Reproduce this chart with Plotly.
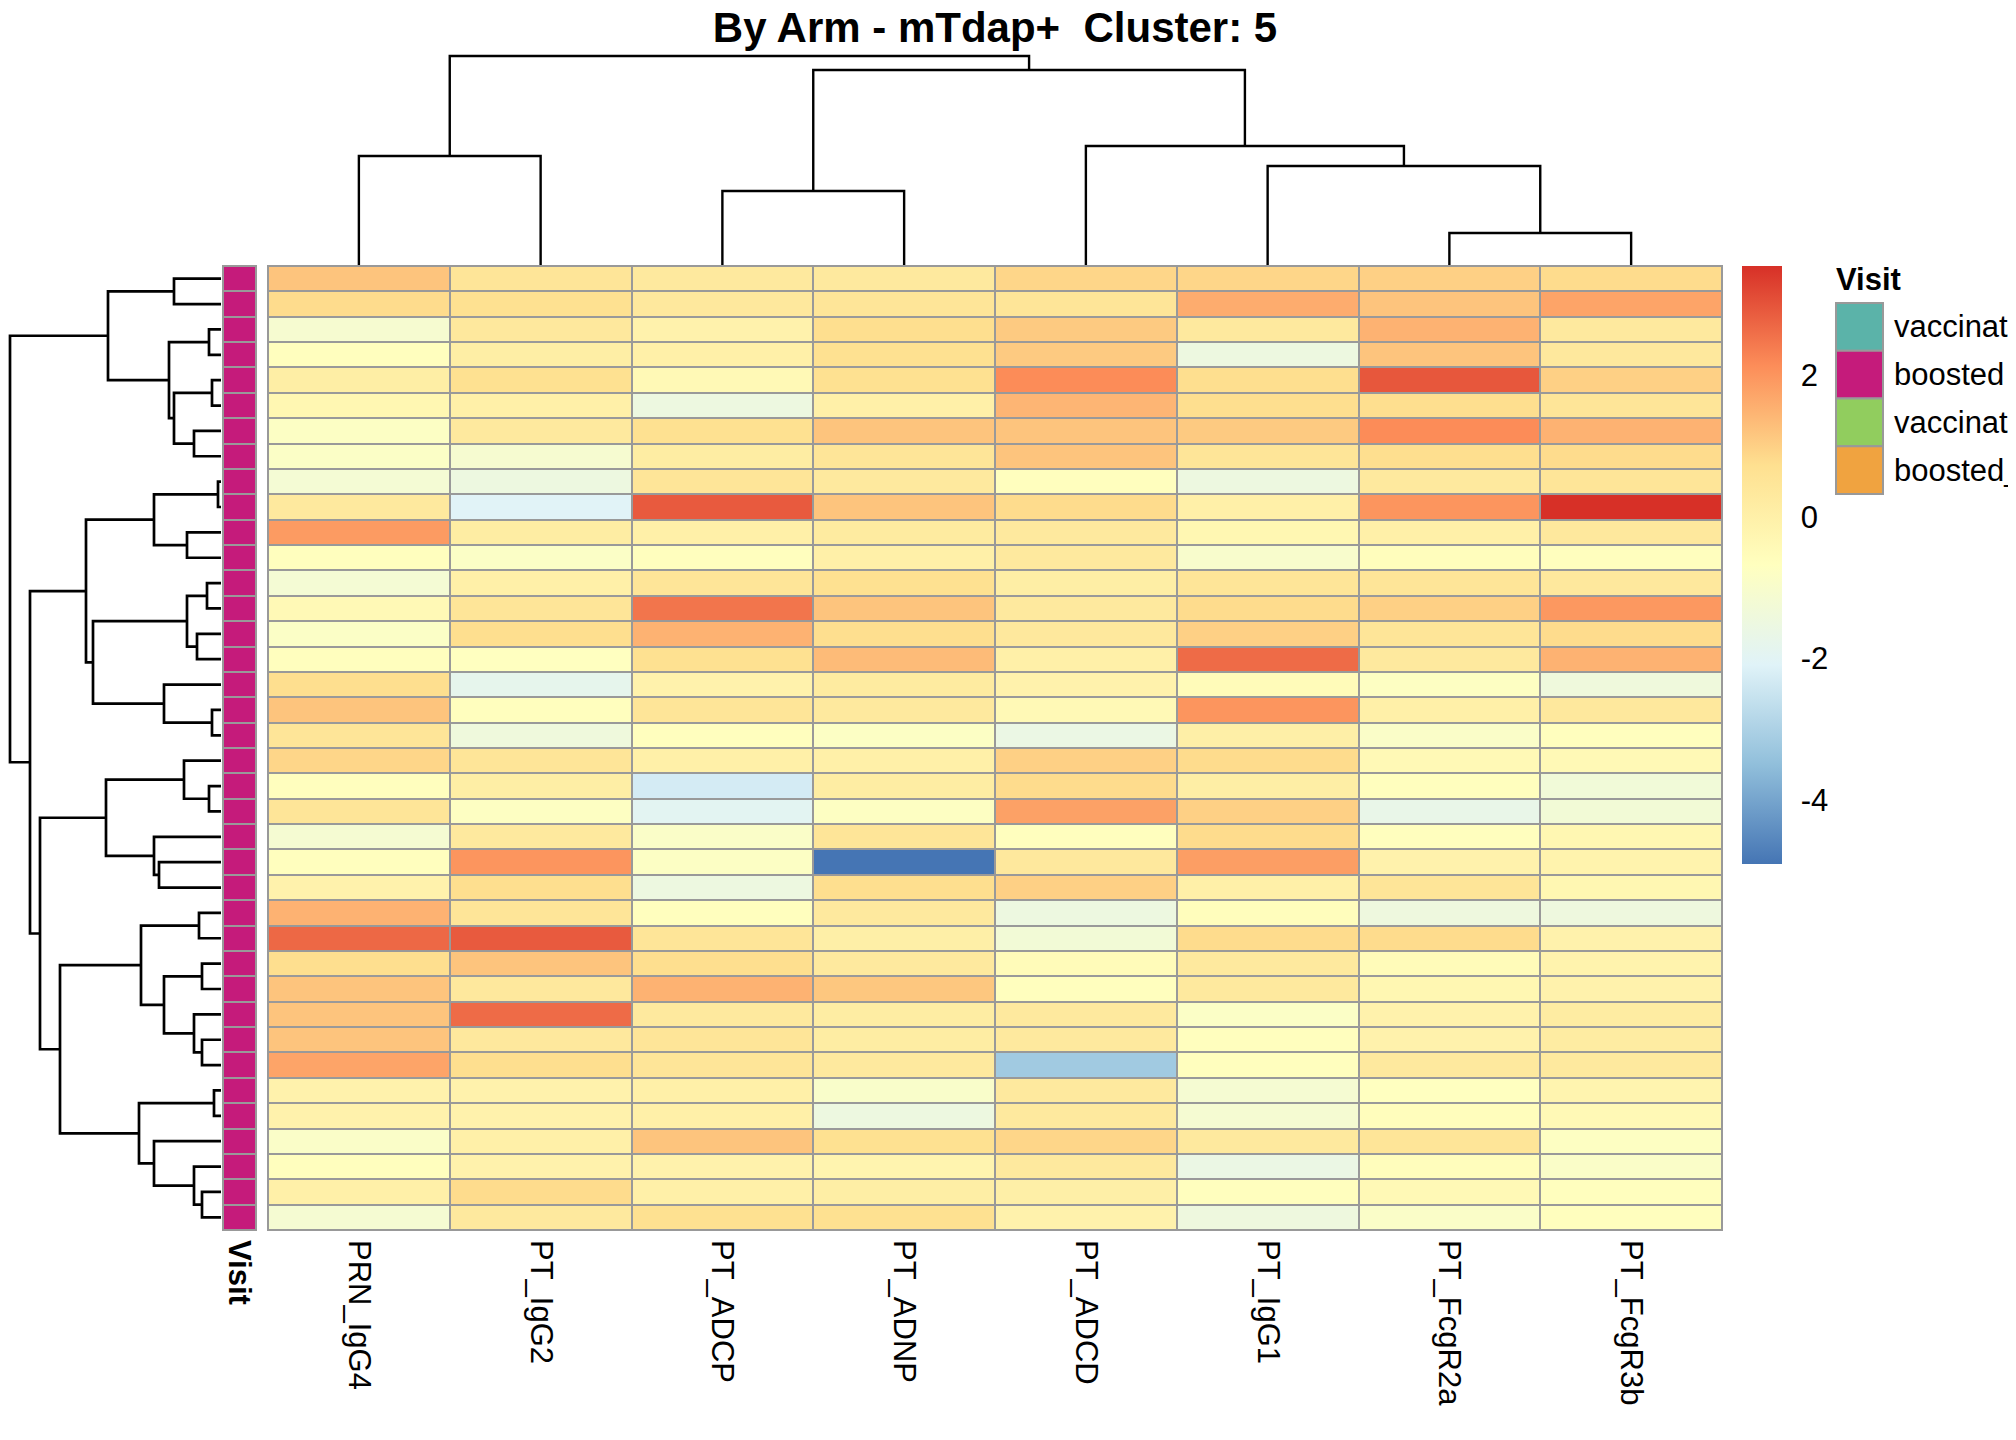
import numpy as np
import plotly.graph_objects as go

# column order as drawn (after clustering)
features = ["PRN_IgG4", "PT_IgG2", "PT_ADCP", "PT_ADNP", "PT_ADCD", "PT_IgG1", "PT_FcgR2a", "PT_FcgR3b"]

# scaled values, one list per feature, rows top -> bottom
PRN_IgG4 = [1.2, 0.8, -1.1, -0.65, 0.1, -0.3, -0.8, -0.85, -1.2, 0.3, 1.9, -0.65, -1.2, -0.4, -0.85, -0.65, 0.75, 1.2, 0.5,
            0.9, -0.65, 0.5, -1.15, -0.65, -0.1, 1.5, 2.7, 0.75, 1.2, 1.2, 1.2, 1.75, -0.1, -0.1, -0.9, -0.65, 0.0, -1.15]
PT_IgG2 = [0.5, 0.7, 0.35, 0.1, 0.7, 0.0, 0.3, -1.1, -1.5, -2.05, 0.15, -0.85, 0.0, 0.5, 0.75, -0.7, -1.8, -0.65, -1.4,
           0.5, 0.1, -0.75, 0.3, 2.0, 0.75, 0.5, 2.9, 1.2, 0.35, 2.65, 0.35, 0.75, -0.1, -0.1, 0.0, -0.1, 0.8, 0.3]
PT_ADCP = [0.3, 0.35, -0.1, 0.0, -0.4, -1.5, 0.7, 0.15, 0.5, 2.9, 0.0, -0.65, 0.5, 2.5, 1.5, 0.7, -0.1, 0.5, -0.65,
           0.0, -2.3, -1.95, -0.9, -0.8, -1.5, -0.65, 0.5, 0.75, 1.5, 0.3, 0.5, 0.5, 0.0, 0.0, 1.2, -0.1, 0.0, 0.7]
PT_ADNP = [0.3, 0.5, 0.75, 0.7, 0.7, 0.0, 1.2, 0.5, 0.3, 1.2, 0.25, 0.0, 0.7, 1.2, 0.75, 1.35, 0.25, 0.3, -0.8,
           0.0, 0.15, -0.75, 0.5, -4.9, 0.75, 0.3, 0.05, 0.3, 1.15, 0.15, 0.15, 0.3, -0.95, -1.5, 0.7, -0.2, 0.1, 0.7]
PT_ADCD = [0.9, 0.5, 1.1, 1.1, 2.15, 1.45, 1.2, 1.2, -0.65, 0.8, 0.3, 0.3, 0.1, 0.3, 0.35, 0.0, -0.1, -0.4, -1.6,
           1.0, 0.8, 1.8, -0.65, 0.35, 1.0, -1.5, -1.25, -0.5, -0.65, 0.3, 0.3, -3.2, 0.3, 0.3, 0.9, 0.3, 0.05, -0.1]
PT_IgG1 = [0.9, 1.6, 0.3, -1.5, 0.75, 0.75, 1.1, 0.5, -1.5, 0.0, -0.3, -1.0, 0.5, 0.8, 1.0, 2.65, -0.5, 2.0, 0.05,
           0.8, 0.1, 1.0, 0.8, 1.85, 0.0, -0.6, 0.8, 0.3, 0.3, -0.85, -0.65, -0.65, -1.15, -1.15, 0.3, -1.6, -0.65, -1.45]
PT_FcgR2a = [1.0, 1.2, 1.5, 1.2, 2.95, 0.75, 2.15, 0.75, 0.3, 2.0, 0.0, -0.6, 0.5, 1.0, 0.5, 0.3, -0.75, 0.0, -0.9,
             -0.4, -0.65, -1.7, -0.65, -0.1, 0.5, -1.45, 0.8, -0.5, -0.3, -0.1, -0.1, 0.3, -0.7, -0.6, 0.5, -0.6, -0.4, -0.9]
PT_FcgR3b = [0.8, 1.75, 0.3, 0.35, 1.0, 0.5, 1.5, 0.8, 0.5, 3.54, 0.35, -0.65, 0.35, 1.95, 0.8, 1.5, -1.4, 0.35, -0.65,
             -0.4, -1.3, -1.25, -0.3, -0.15, -0.3, -1.45, -0.1, -0.15, -0.1, 0.2, 0.2, 0.3, -0.2, -0.4, -0.75, -0.9, -0.65, -0.65]

# row annotation
visit = ["boosted", "boosted", "boosted", "boosted", "boosted", "boosted", "boosted", "boosted",
         "boosted", "boosted", "boosted", "boosted", "boosted", "boosted", "boosted", "boosted",
         "boosted", "boosted", "boosted", "boosted", "boosted", "boosted", "boosted", "boosted",
         "boosted", "boosted", "boosted", "boosted", "boosted", "boosted", "boosted", "boosted",
         "boosted", "boosted", "boosted", "boosted", "boosted", "boosted"]
visit_levels = ["vaccinated", "boosted", "vaccinated_mTdap", "boosted_mTdap"]
visit_colors = ["#5BB3A9", "#C51B7B", "#91CD5E", "#F0A340"]

# colour bar ticks
bar_ticks = [-4, -2, 0, 2]
bar_ticktext = ["-4", "-2", "0", "2"]

# hclust merges (leaf ids = display order, new node ids continue after leaves) and heights
col_merges = [(0, 1), (2, 3), (6, 7), (5, 10), (4, 11), (9, 12), (8, 13)]
col_heights = [109, 74, 32, 99, 119, 195, 209]

row_merges = [(0, 1), (2, 3), (4, 5), (6, 7), (40, 41), (39, 42), (38, 43),
              (8, 9), (10, 11), (45, 46), (12, 13), (14, 15), (48, 49), (17, 18), (16, 51), (50, 52), (47, 53),
              (20, 21), (19, 55), (23, 24), (22, 57), (56, 58),
              (25, 26), (27, 28), (30, 31), (29, 62), (61, 63), (60, 64), (32, 33), (36, 37), (35, 67), (34, 68),
              (66, 69), (65, 70), (59, 71), (54, 72), (44, 73)]
row_heights = [47, 12, 9, 27, 47, 52, 113,
               3, 34, 67, 14, 24, 34, 9, 57, 128, 135,
               12, 37, 62, 67, 115,
               22, 19, 19, 27, 57, 80, 7, 19, 27, 67,
               82, 161, 181, 191, 211]

palette = ["#4575B4", "#91BFDB", "#E0F3F8", "#FFFFBF", "#FEE090", "#FC8D59", "#D73027"]

# page has an 8px body margin: shift everything and keep the page from scrolling
OFF = 8
W, H = 2016 - OFF, 1440 - 2 * OFF
FONT = "Liberation Sans, Arial, sans-serif"
GREY = "#999999"
FS = 31


def px(x):
    return (x - OFF) / W


def py(y):
    return 1 - (y - OFF) / H


def dendro(merges, heights, n):
    pos = {i: float(i) for i in range(n)}
    hgt = {i: 0.0 for i in range(n)}
    p, h = [], []
    for k, ((a, b), ht) in enumerate(zip(merges, heights)):
        p += [pos[a], pos[a], pos[b], pos[b], None]
        h += [hgt[a], ht, ht, hgt[b], None]
        pos[n + k] = (pos[a] + pos[b]) / 2
        hgt[n + k] = ht
    return p, h


z = np.column_stack([PRN_IgG4, PT_IgG2, PT_ADCP, PT_ADNP, PT_ADCD, PT_IgG1, PT_FcgR2a, PT_FcgR3b])
n_rows, n_cols = z.shape
colorscale = [[i / (len(palette) - 1), c] for i, c in enumerate(palette)]

visit_idx = [[visit_levels.index(v)] for v in visit]
ann_scale = []
for i, c in enumerate(visit_colors):
    ann_scale += [[i / len(visit_colors), c], [(i + 1) / len(visit_colors), c]]

fig = go.Figure()

fig.add_trace(go.Heatmap(
    z=z, x=list(range(n_cols)), y=list(range(n_rows)),
    colorscale=colorscale, zmin=z.min(), zmax=z.max(),
    xgap=2, ygap=2, xaxis="x", yaxis="y",
    colorbar=dict(x=px(1742), xanchor="left", y=py(266), yanchor="top",
                  len=598, lenmode="pixels", thickness=40, thicknessmode="pixels",
                  outlinewidth=0, xpad=0, ypad=0,
                  tickvals=bar_ticks, ticktext=bar_ticktext,
                  ticks="outside", ticklen=13, tickcolor="rgba(0,0,0,0)",
                  tickfont=dict(size=FS, color="black", family=FONT)),
))

fig.add_trace(go.Heatmap(
    z=visit_idx, x=[0], y=list(range(n_rows)),
    colorscale=ann_scale, zmin=-0.5, zmax=len(visit_levels) - 0.5,
    showscale=False, xgap=2, ygap=2, xaxis="x2", yaxis="y",
))

rp, rh = dendro(row_merges, row_heights, n_rows)
fig.add_trace(go.Scatter(x=rh, y=rp, mode="lines", line=dict(color="black", width=2.7),
                         xaxis="x3", yaxis="y", hoverinfo="skip", showlegend=False))

cp, ch = dendro(col_merges, col_heights, n_cols)
fig.add_trace(go.Scatter(x=cp, y=ch, mode="lines", line=dict(color="black", width=2.4),
                         xaxis="x4", yaxis="y3", hoverinfo="skip", showlegend=False))

bare = dict(showgrid=False, zeroline=False, showline=False, ticks="", automargin=False)

fig.update_layout(
    width=W, height=H, margin=dict(l=0, r=0, t=0, b=0),
    paper_bgcolor="white", plot_bgcolor="white",
    font=dict(family=FONT, color="black"),
    title=dict(text="<b>By Arm - mTdap+\u00a0 Cluster: 5</b>", x=px(995), xanchor="center",
               y=py(27), yanchor="middle", font=dict(size=42, family=FONT, color="black")),
    xaxis=dict(domain=[px(268), px(1722)], range=[-0.5, n_cols - 0.5], anchor="y",
               tickvals=list(range(n_cols)), ticktext=features, tickangle=90,
               tickfont=dict(size=FS), ticklabelstandoff=9, **bare),
    yaxis=dict(domain=[py(1230), py(266)], range=[n_rows - 0.5, -0.5],
               showticklabels=False, **bare),
    xaxis2=dict(domain=[px(223), px(256)], range=[-0.5, 0.5], anchor="y",
                tickvals=[0], ticktext=["<b>Visit</b>"], tickangle=90,
                tickfont=dict(size=FS), ticklabelstandoff=9, **bare),
    xaxis3=dict(domain=[px(8), px(221)], range=[213, 0], anchor="y",
                showticklabels=False, **bare),
    xaxis4=dict(domain=[px(268), px(1722)], range=[-0.5, n_cols - 0.5], anchor="y3",
                showticklabels=False, **bare),
    yaxis3=dict(domain=[py(265), py(52)], range=[0, 213], anchor="x4",
                showticklabels=False, **bare),
)

# grey cell borders behind the heatmaps
for xr in ["x domain", "x2 domain"]:
    fig.add_shape(type="rect", xref=xr, yref="y domain", x0=0, x1=1, y0=0, y1=1,
                  fillcolor=GREY, line=dict(color=GREY, width=2), layer="below")

# annotation legend
fig.add_annotation(text="<b>Visit</b>", x=px(1834), y=py(279), xref="paper", yref="paper",
                   xanchor="left", yanchor="middle", showarrow=False, font=dict(size=FS))
box_h = 47.75
for i, (lab, col) in enumerate(zip(visit_levels, visit_colors)):
    top = 303 + i * box_h
    fig.add_shape(type="rect", xref="paper", yref="paper",
                  x0=px(1836), x1=px(1883), y0=py(top + box_h), y1=py(top),
                  fillcolor=col, line=dict(color=GREY, width=2))
    fig.add_annotation(text=lab, x=px(1892), y=py(top + box_h / 2), xref="paper", yref="paper",
                       xanchor="left", yanchor="middle", showarrow=False, font=dict(size=FS))

fig.write_html("out.html")
